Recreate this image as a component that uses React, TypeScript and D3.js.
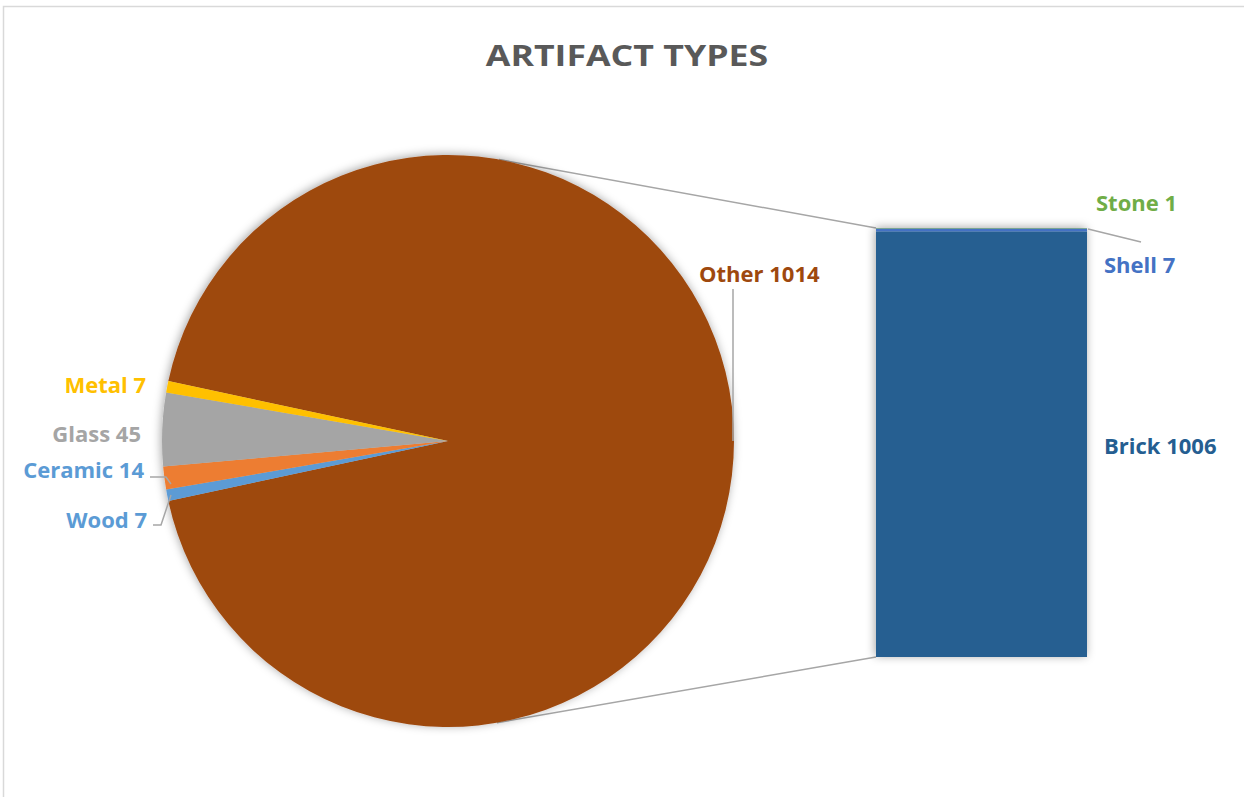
import React from "react";
import * as d3 from "d3";

// ---- data ----
const pieCategories = ["Other", "Metal", "Glass", "Ceramic", "Wood"];
const pieValues = [1014, 7, 45, 14, 7];
const pieColors = ["#9E480E", "#FFC000", "#A5A5A5", "#ED7D31", "#5B9BD5"];
const pieLabelColors = ["#9E480E", "#FFC000", "#A5A5A5", "#5B9BD5", "#5B9BD5"];

const barCategories = ["Brick", "Shell", "Stone"];
const barValues = [1006, 7, 1];
const barColors = ["#255E91", "#4472C4", "#70AD47"];
const barLabelColors = ["#255E91", "#4472C4", "#70AD47"];

const title = "ARTIFACT TYPES";

const W = 1244;
const H = 797;
const FONT = "'Open Sans', Lato, sans-serif";

export default function App() {
  const cx = 448;
  const cy = 441;
  const r = 286;

  const total = d3.sum(pieValues);
  const otherAngle = (pieValues[0] / total) * 2 * Math.PI;
  const startOther = Math.PI / 2 - otherAngle / 2;
  const order = [0, 4, 3, 2, 1];
  const pie = d3
    .pie<number>()
    .value((i) => pieValues[i])
    .sort(null)
    .startAngle(startOther)
    .endAngle(startOther + 2 * Math.PI);
  const arcs = pie(order);
  const arcGen = d3.arc<d3.PieArcDatum<number>>().innerRadius(0).outerRadius(r);

  const barX0 = 876;
  const barX1 = 1087;
  const barTotal = d3.sum(barValues);
  const y = d3.scaleLinear().domain([0, barTotal]).range([657, 228]);
  const stacked = barValues.map((v, i) => {
    const start = d3.sum(barValues.slice(0, i));
    return { i, y0: y(start), y1: y(start + v) };
  });

  const tangent = (px: number, py: number, sign: number) => {
    const dx = px - cx;
    const dy = py - cy;
    const d = Math.hypot(dx, dy);
    const base = Math.atan2(dy, dx);
    const a = base + sign * Math.acos(r / d);
    return [cx + r * Math.cos(a), cy + r * Math.sin(a)];
  };
  const tTop = tangent(barX0, y(barTotal), -1);
  const tBot = tangent(barX0, y(0), 1);

  const labelStyle = { fontFamily: FONT, fontWeight: 700, fontSize: 22 } as const;

  const pieLabelPos: Record<string, [number, number, string]> = {
    Other: [699, 282, "start"],
    Metal: [146, 393, "end"],
    Glass: [141, 442, "end"],
    Ceramic: [144, 478, "end"],
    Wood: [147, 528, "end"],
  };
  const barLabelPos: Record<string, [number, number]> = {
    Brick: [1104, 454],
    Shell: [1104, 273],
    Stone: [1096, 211],
  };

  return (
    <svg width={W} height={H} style={{ position: "absolute", left: 0, top: 0, background: "#fff" }}>
      <defs>
        <filter id="shadow" x="-10%" y="-10%" width="120%" height="120%">
          <feDropShadow dx="-1" dy="-1" stdDeviation="5" floodColor="#000" floodOpacity="0.35" />
        </filter>
      </defs>
      <rect x={0} y={0} width={W} height={H} fill="#fff" />
      <rect x={3.5} y={6.5} width={W + 20} height={H + 20} fill="none" stroke="#D9D9D9" strokeWidth={1.5} />

      <text
        transform="translate(627,66) scale(1.23,1)"
        textAnchor="middle"
        fill="#595959"
        style={{ fontFamily: FONT, fontWeight: 700, fontSize: 29 }}
      >
        {title}
      </text>

      <line x1={tTop[0]} y1={tTop[1]} x2={barX0} y2={y(barTotal)} stroke="#A6A6A6" strokeWidth={1.5} />
      <line x1={tBot[0]} y1={tBot[1]} x2={barX0} y2={y(0)} stroke="#A6A6A6" strokeWidth={1.5} />

      <g transform={`translate(${cx},${cy})`} filter="url(#shadow)">
        {arcs.map((a) => (
          <path key={a.data} d={arcGen(a) || ""} fill={pieColors[a.data]} />
        ))}
      </g>

      <g filter="url(#shadow)">
        {stacked.map((s) => (
          <rect
            key={s.i}
            x={barX0}
            y={s.y1}
            width={barX1 - barX0}
            height={Math.max(0, s.y0 - s.y1)}
            fill={barColors[s.i]}
          />
        ))}
      </g>

      <polyline points={`733,289 733,${cy}`} fill="none" stroke="#A6A6A6" strokeWidth={1.5} />
      <polyline points={`150,477 166,477 171,484`} fill="none" stroke="#A6A6A6" strokeWidth={1.5} />
      <polyline points={`153,525 161,525 171,495`} fill="none" stroke="#A6A6A6" strokeWidth={1.5} />
      <polyline points={`1088,229 1141,242`} fill="none" stroke="#A6A6A6" strokeWidth={1.5} />

      {pieCategories.map((c, i) => {
        const [lx, ly, anchor] = pieLabelPos[c];
        return (
          <text key={c} x={lx} y={ly} textAnchor={anchor as any} fill={pieLabelColors[i]} style={labelStyle}>
            {`${c} ${pieValues[i]}`}
          </text>
        );
      })}

      {barCategories.map((c, i) => {
        const [lx, ly] = barLabelPos[c];
        return (
          <text key={c} x={lx} y={ly} fill={barLabelColors[i]} style={labelStyle}>
            {`${c} ${barValues[i]}`}
          </text>
        );
      })}
    </svg>
  );
}
